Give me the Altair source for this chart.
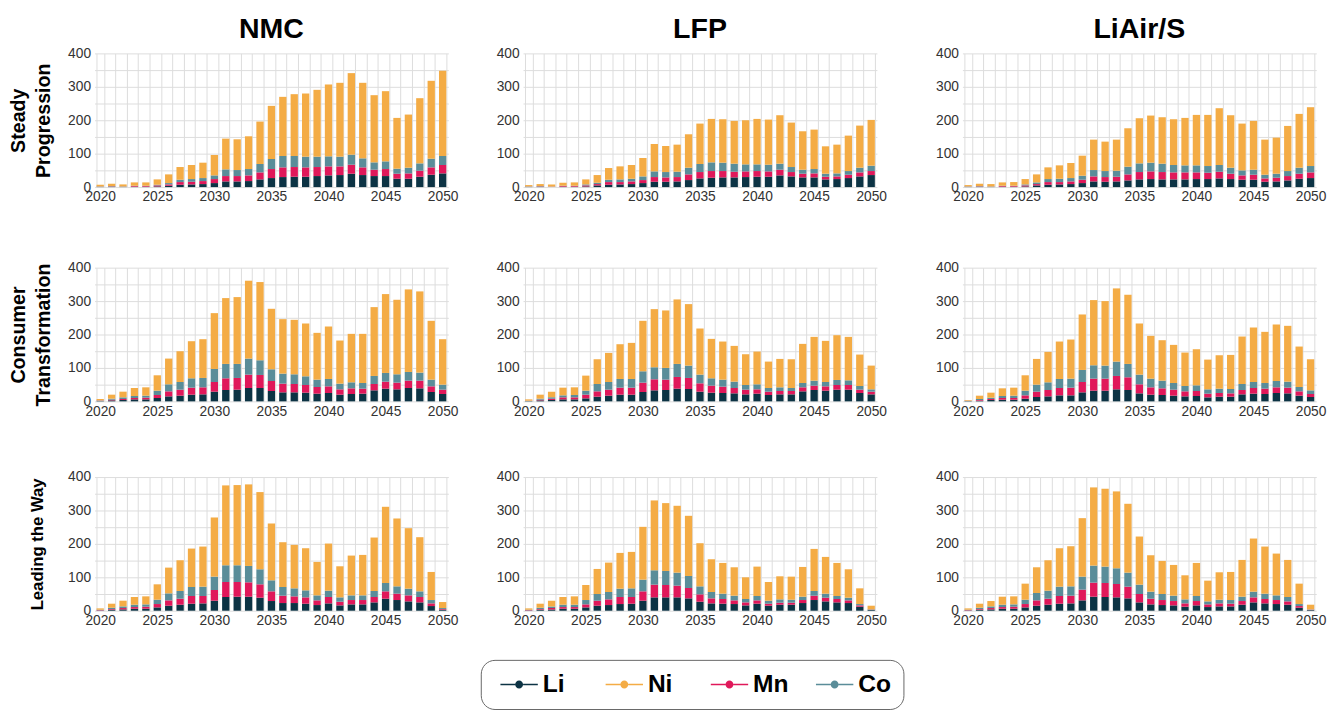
import altair as alt
import pandas as pd

years = list(range(2020, 2051))
metals = ["Li", "Ni", "Mn", "Co"]
metal_colors = ["#0c3344", "#f4ac45", "#e0185a", "#5a8d99"]
stack_rank = {"Li": 0, "Mn": 1, "Co": 2, "Ni": 3}
chemistries = ["NMC", "LFP", "LiAir/S"]
scenario_titles = [["Steady", "Progression"], ["Consumer", "Transformation"], [" ", "Leading the Way"]]
y_grid_values = [0, 50, 100, 150, 200, 250, 300, 350, 400]

# ---- Steady Progression ----
nmc_steady_li = [0.5, 1, 0.5, 1, 1, 2, 4, 7, 8, 9, 12, 17, 17, 18, 23, 27, 30, 31, 31, 33, 35, 36, 40, 36, 33, 33, 25, 25, 31, 37, 41]
nmc_steady_mn = [0.5, 1, 0.5, 2, 2, 3, 4, 8, 8, 9, 12, 16, 16, 17, 21, 27, 29, 29, 28, 27, 27, 26, 27, 23, 19, 21, 15, 16, 18, 22, 25]
nmc_steady_co = [1, 1, 1, 1, 1, 2, 4, 7, 8, 9, 11, 20, 18, 19, 25, 30, 34, 33, 32, 31, 30, 29, 30, 27, 22, 23, 15, 17, 22, 26, 27]
nmc_steady_ni = [5, 7, 6, 10, 10, 16, 26, 38, 42, 46, 61, 92, 92, 98, 127, 159, 177, 185, 189, 200, 215, 221, 244, 226, 201, 210, 152, 159, 195, 233, 255]

lfp_steady_li = [0.5, 1, 0.5, 1, 1, 2, 5, 7, 8, 9, 12, 16, 16, 17, 21, 26, 28, 29, 29, 30, 31, 31, 35, 32, 29, 29, 23, 24, 27, 32, 36]
lfp_steady_mn = [0.5, 1, 0.5, 2, 2, 3, 4, 8, 7, 8, 9, 14, 13, 13, 17, 19, 20, 19, 17, 17, 17, 16, 17, 13, 11, 12, 8, 8, 10, 12, 12]
lfp_steady_co = [1, 1, 1, 1, 1, 3, 4, 7, 8, 8, 11, 17, 16, 16, 20, 24, 26, 25, 24, 21, 20, 20, 18, 15, 12, 13, 9, 9, 11, 14, 16]
lfp_steady_ni = [4, 6, 6, 9, 10, 15, 23, 35, 39, 41, 55, 82, 78, 81, 100, 121, 130, 130, 128, 132, 136, 135, 145, 133, 115, 118, 82, 86, 106, 126, 137]

liair_steady_li = [0.5, 1, 0.5, 1, 1, 2, 5, 7, 8, 9, 12, 17, 16, 17, 20, 23, 24, 23, 23, 23, 24, 24, 26, 24, 22, 22, 16, 17, 20, 25, 27]
liair_steady_mn = [0.5, 1, 0.5, 2, 2, 3, 4, 8, 7, 8, 10, 15, 14, 14, 18, 22, 23, 22, 21, 21, 20, 19, 20, 16, 13, 15, 10, 11, 13, 15, 17]
liair_steady_co = [1, 1, 1, 1, 1, 3, 5, 9, 10, 10, 12, 19, 18, 18, 23, 26, 26, 25, 22, 21, 21, 20, 20, 18, 15, 15, 11, 12, 15, 18, 19]
liair_steady_ni = [4, 7, 7, 10, 11, 16, 24, 35, 40, 45, 60, 91, 88, 93, 115, 135, 141, 139, 137, 142, 151, 153, 170, 157, 140, 146, 105, 108, 135, 161, 176]

# ---- Consumer Transformation ----
nmc_consumer_li = [1, 3, 4, 6, 6, 10, 15, 17, 20, 21, 29, 34, 35, 40, 40, 31, 27, 27, 26, 23, 25, 20, 22, 23, 33, 38, 36, 40, 39, 28, 22]
nmc_consumer_mn = [1, 2, 3, 4, 5, 9, 15, 18, 21, 21, 29, 35, 35, 40, 39, 30, 26, 25, 23, 20, 20, 16, 17, 15, 19, 21, 20, 22, 23, 17, 13]
nmc_consumer_co = [1, 3, 5, 6, 6, 13, 21, 23, 28, 28, 39, 43, 42, 48, 44, 35, 30, 29, 26, 22, 22, 17, 18, 17, 24, 26, 25, 26, 24, 20, 15]
nmc_consumer_ni = [4, 12, 17, 24, 25, 46, 77, 92, 111, 116, 167, 197, 200, 233, 234, 181, 163, 163, 158, 140, 157, 129, 145, 147, 206, 236, 223, 247, 243, 176, 136]

lfp_consumer_li = [1, 3, 4, 6, 6, 9, 14, 17, 20, 20, 28, 33, 34, 38, 37, 29, 26, 25, 24, 21, 23, 19, 21, 21, 30, 34, 32, 35, 35, 25, 21]
lfp_consumer_mn = [0.5, 2, 4, 6, 6, 11, 16, 18, 21, 21, 28, 33, 31, 35, 33, 25, 21, 19, 16, 14, 13, 10, 10, 10, 12, 13, 13, 14, 14, 10, 8]
lfp_consumer_co = [0.5, 3, 4, 6, 7, 12, 22, 23, 26, 26, 34, 36, 35, 39, 37, 26, 22, 21, 19, 14, 15, 11, 11, 9, 13, 15, 13, 15, 14, 11, 7]
lfp_consumer_ni = [4, 12, 17, 23, 23, 45, 74, 87, 104, 108, 151, 174, 172, 193, 184, 138, 118, 114, 107, 92, 98, 79, 85, 86, 117, 131, 123, 134, 130, 94, 71]

liair_consumer_li = [1, 2, 4, 5, 5, 8, 13, 15, 18, 18, 27, 32, 32, 36, 34, 24, 20, 19, 17, 15, 16, 12, 14, 14, 21, 23, 22, 25, 24, 17, 13]
liair_consumer_mn = [0.5, 2, 3, 5, 5, 10, 16, 19, 22, 23, 31, 36, 36, 40, 38, 27, 22, 20, 18, 15, 15, 11, 11, 10, 13, 17, 16, 17, 17, 13, 9]
liair_consumer_co = [0.5, 3, 4, 6, 7, 14, 21, 23, 27, 27, 36, 40, 39, 43, 40, 29, 26, 23, 20, 16, 17, 13, 13, 13, 18, 18, 17, 19, 18, 13, 11]
liair_consumer_ni = [2, 10, 15, 23, 24, 46, 77, 91, 112, 117, 166, 195, 193, 219, 207, 153, 128, 121, 114, 100, 108, 89, 100, 102, 142, 163, 153, 169, 167, 121, 93]

# ---- Leading the Way ----
nmc_leading_li = [1, 3, 4, 6, 6, 10, 15, 18, 21, 22, 30, 41, 42, 42, 39, 29, 23, 23, 21, 17, 22, 16, 19, 19, 25, 36, 32, 28, 25, 14, 3]
nmc_leading_mn = [1, 2, 4, 5, 6, 10, 16, 18, 23, 22, 32, 45, 44, 43, 40, 29, 22, 20, 19, 14, 19, 11, 13, 13, 16, 22, 19, 18, 16, 8, 2]
nmc_leading_co = [1, 4, 5, 7, 7, 13, 21, 23, 27, 28, 40, 50, 50, 49, 45, 33, 26, 24, 21, 15, 19, 13, 14, 14, 18, 25, 22, 20, 17, 10, 3]
nmc_leading_ni = [4, 12, 17, 23, 24, 46, 77, 92, 115, 120, 177, 239, 240, 244, 231, 170, 134, 130, 126, 100, 141, 93, 119, 121, 160, 228, 203, 181, 162, 84, 18]

lfp_leading_li = [1, 3, 4, 6, 6, 10, 15, 17, 20, 21, 30, 40, 40, 40, 37, 27, 22, 21, 20, 16, 21, 15, 18, 18, 23, 32, 28, 25, 23, 12, 3]
lfp_leading_mn = [1, 2, 4, 5, 5, 9, 15, 17, 21, 20, 28, 38, 37, 35, 31, 22, 15, 14, 11, 9, 10, 6, 6, 6, 9, 13, 11, 10, 8, 4, 0.5]
lfp_leading_co = [1, 4, 5, 7, 7, 13, 20, 22, 25, 26, 35, 43, 42, 39, 36, 24, 19, 16, 14, 10, 13, 9, 10, 9, 10, 14, 12, 9, 8, 4, 0.5]
lfp_leading_ni = [4, 12, 17, 23, 25, 45, 75, 88, 107, 109, 158, 209, 203, 200, 180, 129, 98, 92, 85, 65, 88, 56, 69, 69, 89, 126, 110, 99, 85, 47, 11]

liair_leading_li = [1, 3, 4, 6, 6, 10, 15, 18, 21, 22, 31, 42, 41, 40, 37, 25, 19, 17, 16, 12, 16, 11, 13, 13, 18, 25, 22, 20, 18, 9, 2]
liair_leading_mn = [1, 2, 4, 5, 6, 10, 16, 18, 23, 23, 32, 42, 42, 40, 35, 25, 17, 15, 13, 10, 13, 8, 9, 8, 11, 15, 13, 12, 10, 5, 1]
liair_leading_co = [1, 4, 5, 7, 7, 13, 22, 24, 28, 28, 39, 51, 49, 47, 42, 28, 21, 18, 16, 12, 15, 9, 11, 11, 13, 17, 16, 14, 13, 6, 1]
liair_leading_ni = [4, 12, 16, 24, 24, 48, 77, 91, 115, 120, 175, 234, 233, 230, 206, 144, 109, 99, 92, 72, 99, 62, 82, 84, 110, 159, 141, 125, 111, 61, 14]

panel_series = [
    [(nmc_steady_li, nmc_steady_mn, nmc_steady_co, nmc_steady_ni),
     (lfp_steady_li, lfp_steady_mn, lfp_steady_co, lfp_steady_ni),
     (liair_steady_li, liair_steady_mn, liair_steady_co, liair_steady_ni)],
    [(nmc_consumer_li, nmc_consumer_mn, nmc_consumer_co, nmc_consumer_ni),
     (lfp_consumer_li, lfp_consumer_mn, lfp_consumer_co, lfp_consumer_ni),
     (liair_consumer_li, liair_consumer_mn, liair_consumer_co, liair_consumer_ni)],
    [(nmc_leading_li, nmc_leading_mn, nmc_leading_co, nmc_leading_ni),
     (lfp_leading_li, lfp_leading_mn, lfp_leading_co, lfp_leading_ni),
     (liair_leading_li, liair_leading_mn, liair_leading_co, liair_leading_ni)],
]

FONT = "Liberation Sans"
GRID = "#dcdcdc"
PANEL_W = 360
PANEL_H = 136

# row-title styling (font size, line height, padding) per scenario row
row_title_size = [20, 20, 17]
row_title_line = [26, 26, 20]
row_title_pad = [14, 14, 22]

# legend symbol: short line with a dot (unit = sqrt(size)/2 px)
LEGEND_SYMBOL = (
    "M-0.385,-0.054H0.767V0.054H-0.385Z "
    "M1.387,-0.054H2.54V0.054H1.387Z "
    "M1.387,0A0.31,0.31 0 1 1 0.767,0A0.31,0.31 0 1 1 1.387,0Z"
)

legend = alt.Legend(
    title=None,
    orient="none",
    legendX=393,
    legendY=617,
    direction="horizontal",
    symbolType=LEGEND_SYMBOL,
    symbolSize=676,
    symbolStrokeWidth=0,
    labelFont=FONT,
    labelFontSize=25,
    labelFontWeight="bold",
    labelColor="#000000",
    labelOffset=25,
    gridAlign="all",
    columnPadding=19,
    padding=12,
    strokeColor="#666666",
    cornerRadius=14,
    fillColor="#ffffff",
)


def panel(scen, chem, li, mn, co, ni):
    rows = []
    for i, yr in enumerate(years):
        for metal, vals in (("Li", li), ("Mn", mn), ("Co", co), ("Ni", ni)):
            rows.append({"year": yr, "metal": metal, "value": vals[i], "stack": stack_rank[metal]})
    df = pd.DataFrame(rows)

    y_axis = dict(
        values=y_grid_values,
        labelExpr="datum.value % 100 === 0 ? datum.label : ''",
        grid=True, gridColor=GRID, ticks=False, domain=False,
        labelFont=FONT, labelFontSize=14, labelColor="#333333", labelPadding=4,
    )
    if chem == 0:
        y_axis.update(title=scenario_titles[scen], titleFont=FONT,
                      titleFontSize=row_title_size[scen],
                      titleFontWeight="bold", titleColor="#000000",
                      titlePadding=row_title_pad[scen],
                      titleLineHeight=row_title_line[scen])
    else:
        y_axis.update(title=None)
    if chem == 2:
        y_axis.update(minExtent=38)

    base = alt.Chart(df).mark_bar().encode(
        x=alt.X("year:O",
                scale=alt.Scale(paddingInner=0.36, paddingOuter=0.18),
                axis=alt.Axis(title=None, labelAngle=0, labelOverlap=False,
                              labelExpr="datum.value % 5 === 0 ? datum.label : ''",
                              tickBand="extent", ticks=False, domain=False,
                              grid=True, gridColor=GRID,
                              labelFont=FONT, labelFontSize=14, labelColor="#333333",
                              labelPadding=3)),
        y=alt.Y("value:Q", stack="zero",
                scale=alt.Scale(domain=[0, 400], nice=False),
                axis=alt.Axis(**y_axis)),
        color=alt.Color("metal:N", scale=alt.Scale(domain=metals, range=metal_colors), legend=legend),
        order=alt.Order("stack:Q", sort="ascending"),
    ).properties(width=PANEL_W, height=PANEL_H)

    if scen == 0:
        base = base.properties(title=alt.TitleParams(
            text=chemistries[chem], font=FONT, fontSize=29, fontWeight="bold",
            color="#000000", anchor="middle", offset=3))
    return base


rows = []
for s in range(3):
    rows.append(alt.hconcat(*[panel(s, c, *panel_series[s][c]) for c in range(3)], spacing=37))

top_rows = alt.vconcat(rows[0], rows[1], spacing=56)
chart = alt.vconcat(top_rows, rows[2], spacing=51).properties(
    padding={"left": 0, "top": 0, "right": 5, "bottom": 5},
    background="#ffffff",
).configure_view(stroke="transparent")

chart.save("out.html", embed_options={"renderer": "svg", "actions": False})
